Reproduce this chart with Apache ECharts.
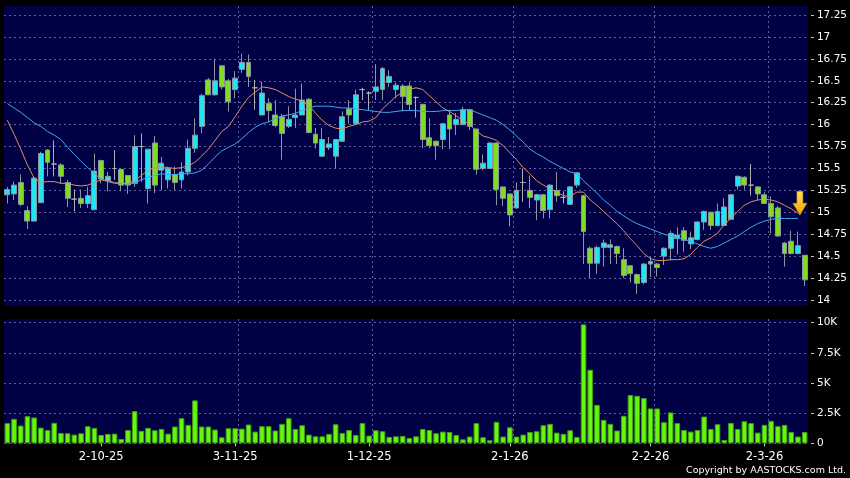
<!DOCTYPE html>
<html><head><meta charset="utf-8">
<script src="https://cdn.jsdelivr.net/npm/echarts@6/dist/echarts.min.js"></script>
<style>html,body{margin:0;padding:0;background:#000;}#c{width:850px;height:478px;}</style>
</head><body><div id="c"></div>
<script>
const dates = [
"11-9-25","12-9-25","15-9-25","16-9-25","17-9-25","18-9-25","19-9-25","22-9-25","23-9-25","24-9-25","25-9-25","26-9-25","29-9-25","30-9-25",
"2-10-25","3-10-25","6-10-25","8-10-25","9-10-25","10-10-25","13-10-25","14-10-25","15-10-25","16-10-25","17-10-25","20-10-25","21-10-25","22-10-25","23-10-25","24-10-25","27-10-25","28-10-25","30-10-25","31-10-25",
"3-11-25","4-11-25","5-11-25","6-11-25","7-11-25","10-11-25","11-11-25","12-11-25","13-11-25","14-11-25","17-11-25","18-11-25","19-11-25","20-11-25","21-11-25","24-11-25","25-11-25","26-11-25","27-11-25","28-11-25",
"1-12-25","2-12-25","3-12-25","4-12-25","5-12-25","8-12-25","9-12-25","10-12-25","11-12-25","12-12-25","15-12-25","16-12-25","17-12-25","18-12-25","19-12-25","22-12-25","23-12-25","24-12-25","29-12-25","30-12-25","31-12-25",
"2-1-26","5-1-26","6-1-26","7-1-26","8-1-26","9-1-26","12-1-26","13-1-26","14-1-26","15-1-26","16-1-26","19-1-26","20-1-26","21-1-26","22-1-26","23-1-26","26-1-26","27-1-26","28-1-26","29-1-26","30-1-26",
"2-2-26","3-2-26","4-2-26","5-2-26","6-2-26","9-2-26","10-2-26","11-2-26","12-2-26","13-2-26","16-2-26","20-2-26","23-2-26","24-2-26","25-2-26","26-2-26","27-2-26",
"2-3-26","3-3-26","4-3-26","5-3-26","6-3-26","9-3-26","10-3-26"];

const tickDates = ["2-10-25","3-11-25","1-12-25","2-1-26","2-2-26","2-3-26"];

const open = [15.20,15.21,15.34,15.02,14.90,15.11,15.71,15.55,15.54,15.34,15.15,15.16,15.10,15.03,15.59,15.36,15.50,15.49,15.42,15.33,
15.75,15.27,15.79,15.48,15.37,15.43,15.37,15.46,15.73,15.98,16.51,16.34,16.67,16.50,16.40,16.63,16.71,16.42,16.11,16.24,
16.11,16.09,15.98,16.08,16.11,16.29,15.89,15.64,15.74,15.64,15.81,16.18,16.01,16.40,16.36,16.38,16.40,16.48,16.40,16.44,
16.44,16.31,16.23,15.85,15.81,15.83,16.11,16.00,16.00,16.17,15.95,15.50,15.50,15.79,15.29,15.21,15.05,15.34,15.25,15.14,
15.20,15.03,15.25,15.17,15.09,15.31,15.19,14.59,14.42,14.60,14.60,14.61,14.46,14.39,14.29,14.20,14.41,14.41,14.50,14.59,
14.70,14.79,14.64,14.69,14.89,15.00,14.85,14.85,14.92,15.30,15.40,15.31,15.29,15.20,15.10,15.05,14.65,14.67,14.53,14.51];
const close = [15.26,15.31,15.09,14.90,15.39,15.67,15.57,15.55,15.41,15.16,15.15,15.10,15.19,15.47,15.38,15.41,15.50,15.31,15.31,15.75,
15.75,15.72,15.31,15.56,15.50,15.34,15.46,15.73,15.88,16.33,16.34,16.50,16.43,16.26,16.53,16.71,16.55,16.42,16.36,16.16,
15.99,15.90,16.06,16.11,16.28,15.91,15.79,15.83,15.78,15.83,16.09,16.11,16.34,16.40,16.36,16.43,16.64,16.55,16.45,16.32,
16.23,16.31,15.83,15.76,15.76,16.01,15.95,16.06,16.17,15.98,15.49,15.56,15.79,15.26,15.16,14.97,15.25,15.34,15.17,15.20,
15.02,15.31,15.19,15.17,15.29,15.45,14.78,14.42,14.60,14.65,14.63,14.53,14.28,14.30,14.19,14.41,14.44,14.37,14.59,14.76,
14.74,14.68,14.71,14.89,15.01,14.85,15.01,15.06,15.20,15.41,15.31,15.31,15.21,15.10,14.95,14.73,14.53,14.53,14.62,14.23];
const low = [15.10,15.14,15.07,14.81,14.90,15.11,15.41,15.41,15.33,15.06,15.01,15.05,15.05,15.03,15.33,15.24,15.37,15.24,15.21,15.29,
15.35,15.10,15.22,15.25,15.27,15.25,15.27,15.42,15.68,15.90,16.34,16.33,16.40,16.15,16.30,16.59,16.43,16.17,16.11,16.03,
15.97,15.60,15.96,15.96,16.11,15.90,15.73,15.63,15.71,15.50,15.81,16.01,16.01,16.28,16.17,16.28,16.28,16.43,16.30,16.15,
16.16,16.08,15.73,15.73,15.60,15.72,15.72,15.88,16.00,15.94,15.43,15.48,15.50,15.08,15.07,14.84,15.04,15.12,15.05,14.91,
14.93,14.93,15.12,15.10,15.09,15.28,14.41,14.25,14.30,14.38,14.41,14.41,14.25,14.20,14.07,14.18,14.26,14.27,14.40,14.45,
14.52,14.55,14.58,14.68,14.80,14.80,14.84,14.85,14.92,15.26,15.26,15.19,15.14,15.10,14.76,14.72,14.38,14.52,14.52,14.16];
const high = [15.29,15.35,15.43,15.07,15.41,15.69,15.72,15.82,15.56,15.37,15.26,15.26,15.29,15.67,15.60,15.46,15.71,15.50,15.42,15.88,
15.90,15.72,15.87,15.63,15.52,15.52,15.57,15.83,16.07,16.35,16.53,16.75,16.68,16.52,16.61,16.81,16.80,16.51,16.49,16.30,
16.28,16.12,16.21,16.41,16.47,16.30,15.96,15.96,15.86,15.83,16.15,16.28,16.40,16.42,16.38,16.69,16.66,16.62,16.48,16.46,
16.48,16.32,16.24,16.07,15.82,16.02,16.17,16.13,16.20,16.18,15.95,15.66,15.80,15.80,15.29,15.21,15.34,15.50,15.42,15.21,
15.21,15.32,15.46,15.24,15.30,15.46,15.20,14.61,14.62,14.69,14.69,14.62,14.59,14.40,14.30,14.42,14.49,14.42,14.60,14.79,
14.83,14.83,14.78,14.90,15.02,15.01,15.10,15.16,15.21,15.42,15.41,15.55,15.30,15.23,15.18,15.07,14.66,14.79,14.78,14.51];

const ma10 = [16.05,15.89,15.72,15.54,15.39,15.34,15.35,15.35,15.33,15.33,
15.31,15.30,15.31,15.34,15.37,15.36,15.34,15.33,15.33,15.36,
15.42,15.48,15.51,15.52,15.51,15.50,15.51,15.53,15.57,15.64,
15.72,15.82,15.92,15.98,16.09,16.21,16.31,16.37,16.43,16.42,
16.40,16.36,16.32,16.29,16.27,16.22,16.13,16.05,15.99,15.96,
15.95,15.98,16.00,16.03,16.04,16.08,16.18,16.25,16.32,16.37,
16.40,16.42,16.40,16.33,16.26,16.19,16.15,16.10,16.05,16.00,
15.93,15.87,15.85,15.82,15.76,15.68,15.60,15.51,15.44,15.36,
15.31,15.27,15.23,15.19,15.18,15.23,15.23,15.14,15.08,15.01,
14.94,14.87,14.79,14.70,14.62,14.53,14.47,14.45,14.45,14.46,
14.46,14.47,14.52,14.60,14.67,14.71,14.76,14.86,14.93,15.01,
15.08,15.12,15.14,15.15,15.14,15.12,15.08,15.04,14.99];

const ma20 = [16.24,16.19,16.14,16.08,16.02,15.98,15.92,15.88,15.83,15.74,
15.66,15.58,15.51,15.44,15.38,15.35,15.33,15.33,15.32,15.34,
15.37,15.40,15.42,15.44,15.43,15.43,15.44,15.44,15.45,15.48,
15.55,15.63,15.70,15.74,15.78,15.84,15.91,15.97,16.01,16.03,
16.07,16.10,16.11,16.13,16.16,16.19,16.21,16.21,16.21,16.20,
16.19,16.19,16.18,16.17,16.16,16.15,16.14,16.14,16.15,16.16,
16.16,16.16,16.15,16.15,16.15,16.16,16.16,16.16,16.17,16.17,
16.14,16.11,16.08,16.05,16.00,15.94,15.87,15.80,15.72,15.67,
15.63,15.58,15.54,15.50,15.46,15.44,15.36,15.29,15.22,15.14,
15.08,15.01,14.96,14.91,14.87,14.84,14.81,14.78,14.75,14.73,
14.71,14.69,14.67,14.64,14.61,14.59,14.61,14.65,14.69,14.73,
14.78,14.83,14.87,14.90,14.92,14.93,14.93,14.93,14.93];

const volume = [1670,2030,1470,2250,2140,1300,1100,1700,860,830,720,830,1420,1280,690,780,800,360,1100,2670,
1030,1280,1080,1190,800,1390,2080,1530,3560,1390,1390,1140,500,1250,1250,1220,1560,970,1420,1420,
1060,1610,2080,1190,1500,720,580,580,780,1580,860,1100,690,1670,640,1080,1000,530,580,610,
440,580,1190,1100,830,970,940,690,330,560,1670,500,250,1780,560,1330,560,720,940,1000,
1500,1610,890,780,1080,530,9860,6100,3190,1940,1610,1060,2280,4000,3940,3750,2890,2890,1750,2560,
1670,1100,970,1100,2220,1190,1580,280,1690,1190,1830,1670,890,1530,1860,1420,1530,940,560,940];

const priceTicks = {min: 14, max: 17.25, step: 0.25};
const volTicks = {min: 0, max: 10000, step: 2500};

const candleData = open.map((o, i) => [o, close[i], low[i], high[i]]);
const isLabel = i => tickDates.indexOf(dates[i]) >= 0;

const GRID = 'rgba(125,125,185,0.75)';
const FONT = 'DejaVu Sans';

const bgX = (g) => ({
  gridIndex: g, type: 'category', data: dates, boundaryGap: true,
  axisLine: {show: false}, axisTick: {show: false}, axisLabel: {show: false},
  splitLine: {show: true, showMinLine: false, showMaxLine: false,
    interval: (i) => i > 0 && isLabel(i - 1),
    lineStyle: {color: GRID, type: [2, 3], width: 1}}
});

const chart = echarts.init(document.getElementById('c'), null, {renderer: 'canvas'});
chart.setOption({
  backgroundColor: '#000000',
  animation: false,
  textStyle: {fontFamily: FONT},
  grid: [
    {left: 4, top: 6, width: 804, height: 300, show: true, backgroundColor: '#000044', borderWidth: 0},
    {left: 4, top: 319, width: 804, height: 125, show: true, backgroundColor: '#000044', borderWidth: 0},
    {left: 4, top: 15, width: 804, height: 285},
    {left: 4, top: 322.7, width: 804, height: 120.6}
  ],
  xAxis: [
    bgX(0), bgX(1),
    {gridIndex: 2, type: 'category', data: dates, boundaryGap: true, show: false},
    {gridIndex: 3, type: 'category', data: dates, boundaryGap: true, offset: 2,
      axisLine: {show: false},
      axisTick: {show: true, alignWithLabel: true, length: 3, interval: (i) => isLabel(i), lineStyle: {color: '#c8c8c8'}},
      axisLabel: {interval: (i) => isLabel(i), color: '#ffffff', fontSize: 11.5, fontFamily: FONT, margin: 6},
      splitLine: {show: false}}
  ],
  yAxis: [
    {gridIndex: 0, type: 'value', min: 0, max: 1, show: false},
    {gridIndex: 1, type: 'value', min: 0, max: 1, show: false},
    {gridIndex: 2, type: 'value', position: 'right', offset: 3,
      min: priceTicks.min, max: priceTicks.max, interval: priceTicks.step,
      axisLine: {show: false},
      axisTick: {show: true, length: 3, lineStyle: {color: '#c8c8c8'}},
      axisLabel: {color: '#ffffff', fontSize: 10.5, fontFamily: FONT, margin: 6,
        formatter: v => String(+v.toFixed(2))},
      splitLine: {show: true, lineStyle: {color: GRID, type: [2, 3], width: 1}}},
    {gridIndex: 3, type: 'value', position: 'right', offset: 3,
      min: volTicks.min, max: volTicks.max, interval: volTicks.step,
      axisLine: {show: false},
      axisTick: {show: true, length: 3, lineStyle: {color: '#c8c8c8'}},
      axisLabel: {color: '#ffffff', fontSize: 10.5, fontFamily: FONT, margin: 6,
        formatter: v => v === 0 ? '0' : (v / 1000) + 'K'},
      splitLine: {show: true, lineStyle: {color: GRID, type: [2, 3], width: 1}}}
  ],
  series: [
    {type: 'candlestick', xAxisIndex: 2, yAxisIndex: 2, data: candleData, barWidth: 5.4, z: 2,
      itemStyle: {color: '#1fe6f5', color0: '#7fdf1f', borderColor: '#8c96a3', borderColor0: '#8c96a3',
        borderColorDoji: '#b0b0b0', borderWidth: 1}},
    {type: 'line', xAxisIndex: 2, yAxisIndex: 2, data: ma20, symbol: 'none', z: 3,
      lineStyle: {color: '#3fa8f0', width: 1}},
    {type: 'line', xAxisIndex: 2, yAxisIndex: 2, data: ma10, symbol: 'none', z: 4,
      lineStyle: {color: '#de9060', width: 1},
      markPoint: {
        symbol: 'path://M4,0 L10,0 L10,12 L14,12 L7,24 L0,12 L4,12 Z',
        symbolSize: [14, 24], symbolKeepAspect: false, symbolOffset: [2, -10],
        label: {show: false}, silent: true,
        itemStyle: {color: new echarts.graphic.LinearGradient(0, 0, 0, 1, [
          {offset: 0, color: '#ffe45a'}, {offset: 1, color: '#f2a000'}]), borderColor: '#c98a00', borderWidth: 0.5},
        data: [{coord: [dates[ma10.length - 1], ma10[ma10.length - 1]]}]
      }},
    {type: 'bar', xAxisIndex: 3, yAxisIndex: 3, data: volume, barWidth: 5.6,
      itemStyle: {color: '#66f70c', borderColor: '#3f9e14', borderWidth: 1}}
  ],
  graphic: [{type: 'text', right: 4, top: 466,
    style: {text: 'Copyright by AASTOCKS.com Ltd.', fill: '#ffffff', font: '9.5px "DejaVu Sans"'}}]
});
</script></body></html>
